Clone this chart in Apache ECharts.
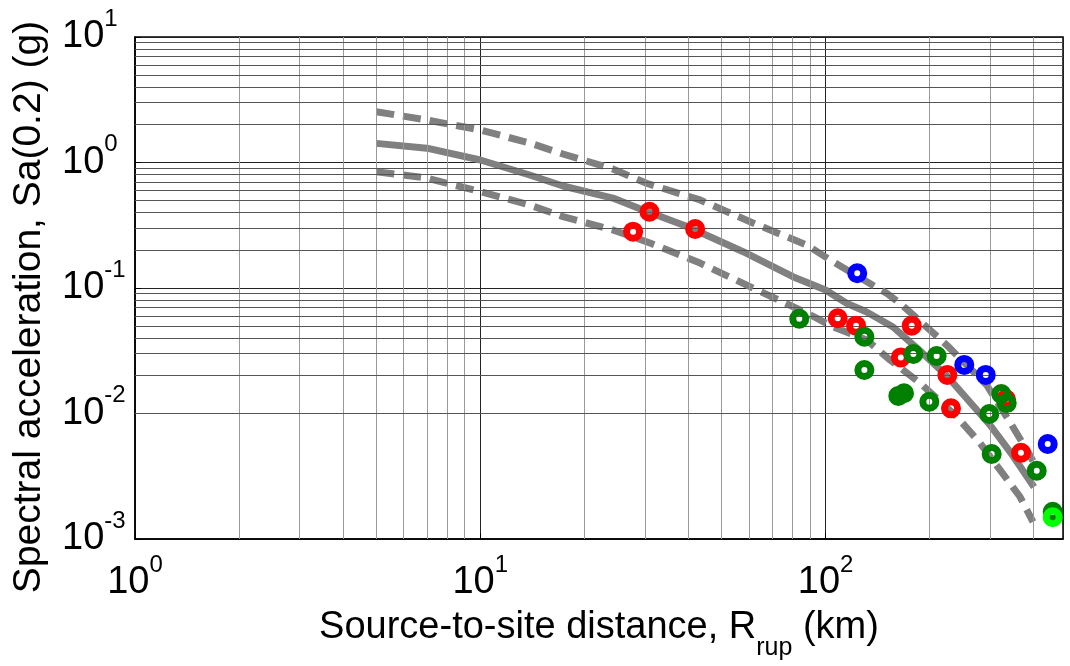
<!DOCTYPE html>
<html>
<head>
<meta charset="utf-8">
<script src="https://cdn.jsdelivr.net/npm/echarts@6/dist/echarts.min.js"></script>
<style>
html,body{margin:0;padding:0;background:#fff;}
#chart{width:1070px;height:666px;}
</style>
</head>
<body>
<div id="chart"></div>
<script>
// ---- data ----
const redX = [27.7, 30.9, 41.9, 108.4, 122.5, 177.6, 165.1, 225.2, 230.8, 333, 368];
const redY = [0.281, 0.405, 0.295, 0.0574, 0.0501, 0.0501, 0.0280, 0.0203, 0.0110, 0.0130, 0.00487];
const greenX = [83.9, 129.5, 129.5, 162.4, 168.7, 179.5, 199.7, 209.7, 297.9, 322.7, 334.6, 302.7, 408.7, 454.7];
const greenY = [0.0569, 0.0409, 0.0222, 0.0138, 0.0145, 0.0298, 0.0124, 0.0287, 0.0099, 0.0143, 0.0121, 0.00476, 0.0035, 0.00165];
const blueX = [123.5, 252.1, 290.9, 439.8];
const blueY = [0.131, 0.0244, 0.0203, 0.00571];
const limeX = [454.7];
const limeY = [0.00149];

const medianX = [5, 7, 10, 13.9, 17.35, 24.2, 29.6, 39.9, 57.7, 80.4, 100, 115, 131.5, 156.8, 187.7, 224.7, 299.3, 349, 401.4];
const medianY = [1.42, 1.30, 1.047, 0.795, 0.65, 0.521, 0.418, 0.308, 0.1946, 0.123, 0.0964, 0.0755, 0.0644, 0.0489, 0.0315, 0.0199, 0.0081, 0.00459, 0.0026];
const upperX = [5, 7, 10, 13.9, 17.35, 24.2, 30.3, 43.3, 61.6, 88.2, 105, 150.3, 164.3, 224.2, 292.8, 345.9, 385.7, 398.7];
const upperY = [2.54, 2.18, 1.815, 1.43, 1.169, 0.888, 0.683, 0.503, 0.33, 0.22, 0.162, 0.0907, 0.0755, 0.0351, 0.01687, 0.0081, 0.00493, 0.00418];
const lowerX = [5, 7, 10, 13.9, 17.35, 24.2, 31.0, 43.3, 60.4, 88.2, 105, 131.5, 153.7, 187.7, 239.8, 280, 320, 365.6, 398.7];
const lowerY = [0.845, 0.752, 0.585, 0.4585, 0.37, 0.29, 0.2284, 0.158, 0.1024, 0.0632, 0.0491, 0.0385, 0.0267, 0.0175, 0.00943, 0.00582, 0.00355, 0.00217, 0.00137];

// grid line positions (minor decades 2..9)
const xMinorGrid = [2,3,4,5,6,7,8,9,20,30,40,50,60,70,80,90,200,300,400];
const yMinorGrid = [0.002,0.003,0.004,0.005,0.006,0.007,0.008,0.009,0.02,0.03,0.04,0.05,0.06,0.07,0.08,0.09,0.2,0.3,0.4,0.5,0.6,0.7,0.8,0.9,2,3,4,5,6,7,8,9];

const xMin = 1, xMax = 487, yMin = 0.001, yMax = 10;
const xTitle = ['Source-to-site distance, R', 'rup', ' (km)'];
const yTitle = 'Spectral acceleration, Sa(0.2) (g)';

const FONT = '"Liberation Sans", Arial, Helvetica, sans-serif';
const zip = (xs, ys) => xs.map((x, i) => [x, ys[i]]);

function powLabel(v) {
  const l = Math.log10(v);
  const e = Math.round(l);
  if (Math.abs(l - e) > 1e-6) return '';
  return '{b|10}{s|' + e + '}';
}
const labelRich = {
  b: {fontSize: 38, lineHeight: 60, fontFamily: FONT, color: '#000', verticalAlign: 'middle'},
  s: {fontSize: 24, lineHeight: 60, fontFamily: FONT, color: '#000', verticalAlign: 'top'}
};

function ring(name, xs, ys, color, z) {
  return {
    type: 'scatter', name: name, data: zip(xs, ys), z: z,
    symbol: 'circle', symbolSize: 13,
    itemStyle: {color: 'rgba(0,0,0,0)', borderColor: color, borderWidth: 7, opacity: 1}
  };
}
function curve(name, xs, ys, dashed) {
  return {
    type: 'line', name: name, data: zip(xs, ys), z: 3,
    showSymbol: false, symbol: 'none', smooth: false,
    lineStyle: {color: '#808080', width: 7, type: dashed ? [18, 9] : 'solid', cap: 'butt', join: 'round'}
  };
}

const chart = echarts.init(document.getElementById('chart'), null, {renderer: 'canvas'});
chart.setOption({
  animation: false,
  backgroundColor: '#fff',
  grid: {left: 135, right: 7, top: 37, bottom: 127, containLabel: false, outerBoundsMode: 'none',
         show: true, borderColor: '#000', borderWidth: 1.5, backgroundColor: '#fff'},
  xAxis: {
    type: 'log', logBase: 10, min: xMin, max: xMax,
    axisLine: {show: true, lineStyle: {color: '#000', width: 1.5}},
    axisTick: {show: true, inside: true, length: 6, lineStyle: {color: '#000', width: 1}},
    splitLine: {show: true, lineStyle: {color: '#222', width: 1}},
    axisLabel: {formatter: powLabel, rich: labelRich, margin: 14, showMaxLabel: false},
    name: '{a|' + xTitle[0] + '}{sub|' + xTitle[1] + '}{a|' + xTitle[2] + '}',
    nameLocation: 'middle', nameGap: 70,
    nameTextStyle: {
      rich: {
        a: {fontSize: 38, lineHeight: 54, fontFamily: FONT, color: '#000', verticalAlign: 'top'},
        sub: {fontSize: 25, lineHeight: 54, padding: [27, 0, 0, 0], fontFamily: FONT, color: '#000', verticalAlign: 'top'}
      }
    }
  },
  yAxis: {
    type: 'log', logBase: 10, min: yMin, max: yMax,
    axisLine: {show: true, lineStyle: {color: '#000', width: 1.5}},
    axisTick: {show: true, inside: true, length: 6, lineStyle: {color: '#000', width: 1}},
    splitLine: {show: true, lineStyle: {color: '#222', width: 1}},
    axisLabel: {formatter: powLabel, rich: labelRich, margin: 73, align: 'left'},
    name: yTitle, nameLocation: 'middle', nameGap: 82,
    nameTextStyle: {fontSize: 39, lineHeight: 44, fontFamily: FONT, color: '#000', padding: [0, 38, 0, 0]}
  },
  series: [
    {
      type: 'line', name: 'grid', data: [[10, 1]], z: 1, showSymbol: false, symbol: 'none',
      lineStyle: {width: 0}, silent: true,
      markLine: {
        silent: true, symbol: ['none', 'none'], label: {show: false}, animation: false,
        lineStyle: {type: 'solid', width: 1, color: '#999'},
        data: xMinorGrid.map(v => ({xAxis: v, lineStyle: {color: '#999', type: 'solid', width: 1}}))
          .concat(yMinorGrid.map(v => ({yAxis: v, lineStyle: {color: '#555', type: 'solid', width: 1}})))
      }
    },
    curve('upper', upperX, upperY, true),
    curve('lower', lowerX, lowerY, true),
    curve('median', medianX, medianY, false),
    ring('red', redX, redY, '#ff0000', 5),
    ring('green', greenX, greenY, '#008000', 6),
    ring('blue', blueX, blueY, '#0000ff', 7),
    ring('lime', limeX, limeY, '#00ff00', 8)
  ]
});
</script>
</body>
</html>
